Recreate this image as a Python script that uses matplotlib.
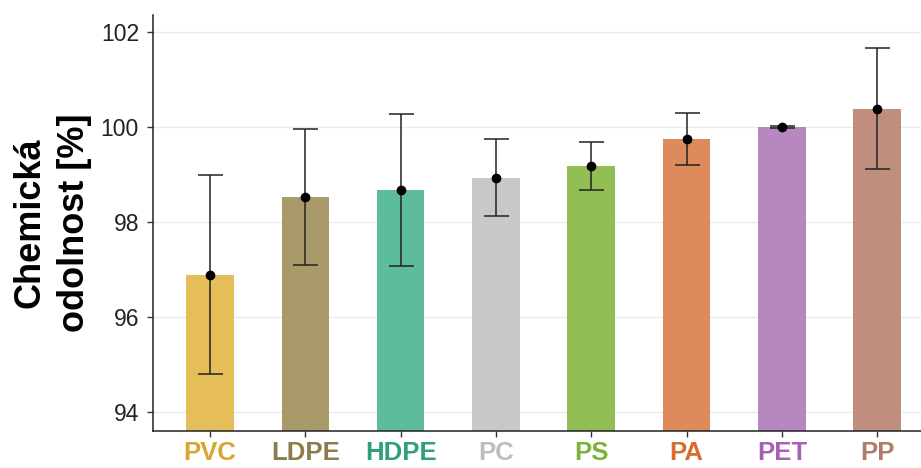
import matplotlib.pyplot as plt
import numpy as np

# data
plastics = ["PVC", "LDPE", "HDPE", "PC", "PS", "PA", "PET", "PP"]
mean_val = [96.89, 98.53, 98.67, 98.93, 99.17, 99.74, 100.0, 100.38]
err_low = [94.81, 97.09, 97.08, 98.13, 98.67, 99.20, 99.98, 99.12]
err_high = [98.99, 99.96, 100.27, 99.74, 99.69, 100.30, 100.02, 101.66]

bar_colors = ["#E5BE5A", "#A99A69", "#5DBC9B", "#C8C8C8", "#92BE56", "#DD8B5C", "#B787C0", "#C08E7C"]
label_colors = ["#D6A62E", "#8C7C4A", "#2F9F7E", "#BDBDBD", "#7DB23A", "#D86D2F", "#A462B1", "#B07B69"]

x = np.arange(len(plastics))
mean_val = np.array(mean_val)
yerr = np.vstack([mean_val - np.array(err_low), np.array(err_high) - mean_val])

fig = plt.figure(figsize=(9.21, 4.68), dpi=100)
ax = fig.add_axes([0.166, 0.079, 0.834, 0.889])

ax.bar(x, mean_val - 90, bottom=90, width=0.5, color=bar_colors, zorder=2)
ax.errorbar(x, mean_val, yerr=yerr, fmt="o", color="black", ecolor="#222222",
            markersize=6, elinewidth=1.1, capsize=9, capthick=1.1, zorder=3)

ax.set_xlim(-0.6, 7.46)
ax.set_ylim(93.6, 102.36)
ax.set_yticks([94, 96, 98, 100, 102])
ax.yaxis.grid(True, color="#EBEBEB", linewidth=1.0, zorder=0)
ax.set_axisbelow(True)

ax.set_xticks(x)
ax.set_xticklabels(plastics, fontsize=18.5, fontweight="bold",
                   family=["Liberation Sans", "DejaVu Sans"])
for lbl, c in zip(ax.get_xticklabels(), label_colors):
    lbl.set_color(c)

for t in ax.get_yticklabels():
    t.set_fontsize(16.5)
    t.set_color("#222222")
    t.set_family(["Liberation Sans", "DejaVu Sans"])

ax.tick_params(axis="both", length=4, width=1, color="#333333")
ax.tick_params(axis="x", pad=3)
ax.tick_params(axis="y", pad=6)

for s in ["top", "right"]:
    ax.spines[s].set_visible(False)
for s in ["left", "bottom"]:
    ax.spines[s].set_color("#222222")
    ax.spines[s].set_linewidth(1.1)

ax.set_ylabel("Chemická\nodolnost [%]", fontsize=26, fontweight="bold",
              family=["Liberation Sans", "DejaVu Sans"], labelpad=6, linespacing=1.35)

fig.savefig("out.png", dpi=100)
